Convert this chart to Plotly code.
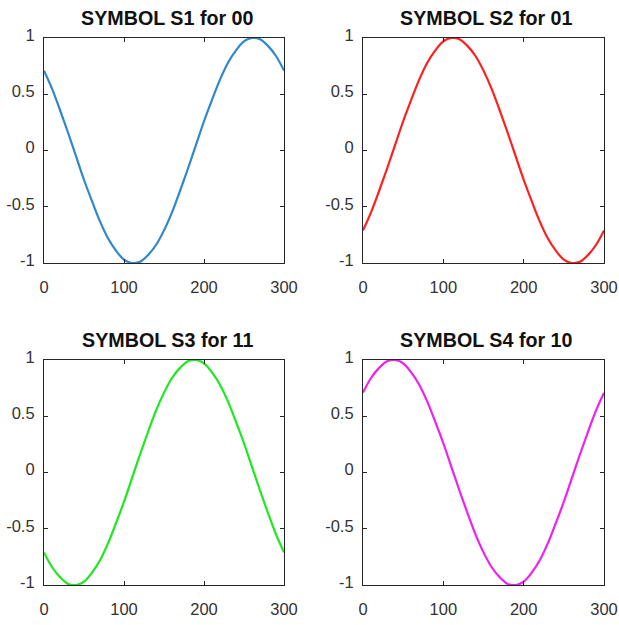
import plotly.graph_objects as go

x_samples = [0, 10, 20, 30, 40, 50, 60, 70, 80, 90, 100, 110, 120, 130, 140, 150,
             160, 170, 180, 190, 200, 210, 220, 230, 240, 250, 260, 270, 280, 290, 300]

s1_values = [0.71, 0.55, 0.36, 0.16, -0.05, -0.26, -0.45, -0.63, -0.78, -0.89, -0.97,
             -1.00, -0.99, -0.93, -0.84, -0.71, -0.55, -0.36, -0.16, 0.05, 0.26,
             0.45, 0.63, 0.78, 0.89, 0.97, 1.00, 0.99, 0.93, 0.84, 0.71]
s2_values = [-0.71, -0.55, -0.36, -0.16, 0.05, 0.26, 0.45, 0.63, 0.78, 0.89, 0.97,
             1.00, 0.99, 0.93, 0.84, 0.71, 0.55, 0.36, 0.16, -0.05, -0.26,
             -0.45, -0.63, -0.78, -0.89, -0.97, -1.00, -0.99, -0.93, -0.84, -0.71]
s3_values = [-0.71, -0.84, -0.93, -0.99, -1.00, -0.97, -0.89, -0.78, -0.63, -0.45, -0.26,
             -0.05, 0.16, 0.36, 0.55, 0.71, 0.84, 0.93, 0.99, 1.00, 0.97,
             0.89, 0.78, 0.63, 0.45, 0.26, 0.05, -0.16, -0.36, -0.55, -0.71]
s4_values = [0.71, 0.84, 0.93, 0.99, 1.00, 0.97, 0.89, 0.78, 0.63, 0.45, 0.26,
             0.05, -0.16, -0.36, -0.55, -0.71, -0.84, -0.93, -0.99, -1.00, -0.97,
             -0.89, -0.78, -0.63, -0.45, -0.26, -0.05, 0.16, 0.36, 0.55, 0.71]

titles = ["SYMBOL S1 for 00", "SYMBOL S2 for 01", "SYMBOL S3 for 11", "SYMBOL S4 for 10"]
series = [s1_values, s2_values, s3_values, s4_values]
colors = ["#2f88cc", "#ff1f1f", "#1ee81e", "#f020f0"]

x_tickvals = [0, 100, 200, 300]
y_tickvals = [-1, -0.5, 0, 0.5, 1]
y_ticktext = ["-1", "-0.5", "0", "0.5", "1"]

W, H = 619, 625
# panel edges in pixels (left, right, top, bottom)
panels = [(44, 284, 38, 263), (363, 604, 38, 263), (44, 284, 360, 585), (363, 604, 360, 585)]

fig = go.Figure()
tick_font = dict(family="Liberation Sans, Arial, sans-serif", size=16.5, color="#333333")
annotations = []
for i, (vals, col, title, (l, r, t, b)) in enumerate(zip(series, colors, titles, panels)):
    n = "" if i == 0 else str(i + 1)
    fig.add_trace(go.Scatter(x=x_samples, y=vals, mode="lines",
                             line=dict(color=col, width=2.2, shape="spline"),
                             xaxis="x" + n, yaxis="y" + n, showlegend=False,
                             hoverinfo="skip"))
    xd = [l / W, r / W]
    yd = [1 - b / H, 1 - t / H]
    fig.layout["xaxis" + n] = dict(domain=xd, anchor="y" + n, range=[0, 300],
                                   tickvals=x_tickvals, ticks="inside", ticklen=4,
                                   tickcolor="#262626", showline=True, linecolor="#262626",
                                   linewidth=1.2, mirror="ticks", showgrid=False,
                                   zeroline=False, tickfont=tick_font,
                                   ticklabelstandoff=9, automargin=False)
    fig.layout["yaxis" + n] = dict(domain=yd, anchor="x" + n, range=[-1, 1],
                                   tickvals=y_tickvals, ticktext=y_ticktext,
                                   ticks="inside", ticklen=4,
                                   tickcolor="#262626", showline=True, linecolor="#262626",
                                   linewidth=1.2, mirror="ticks", showgrid=False,
                                   zeroline=False, tickfont=tick_font,
                                   ticklabelstandoff=5, ticklabelshift=-3,
                                   automargin=False)
    annotations.append(dict(text="<b>" + title + "</b>", x=(l + r + 6) / 2 / W,
                            y=1 - 18 / H if t < 100 else 1 - 340 / H,
                            xref="paper", yref="paper",
                            xanchor="center", yanchor="middle", showarrow=False,
                            font=dict(family="Liberation Sans, Arial, sans-serif",
                                      size=19.7, color="#111111")))

fig.update_layout(width=W, height=H, margin=dict(l=0, r=0, t=0, b=0, autoexpand=False),
                  plot_bgcolor="white", paper_bgcolor="white",
                  annotations=annotations)
fig.write_html("out.html", config={"displayModeBar": False},
               post_script="document.body.style.margin='0px';document.body.style.overflow='hidden';")
